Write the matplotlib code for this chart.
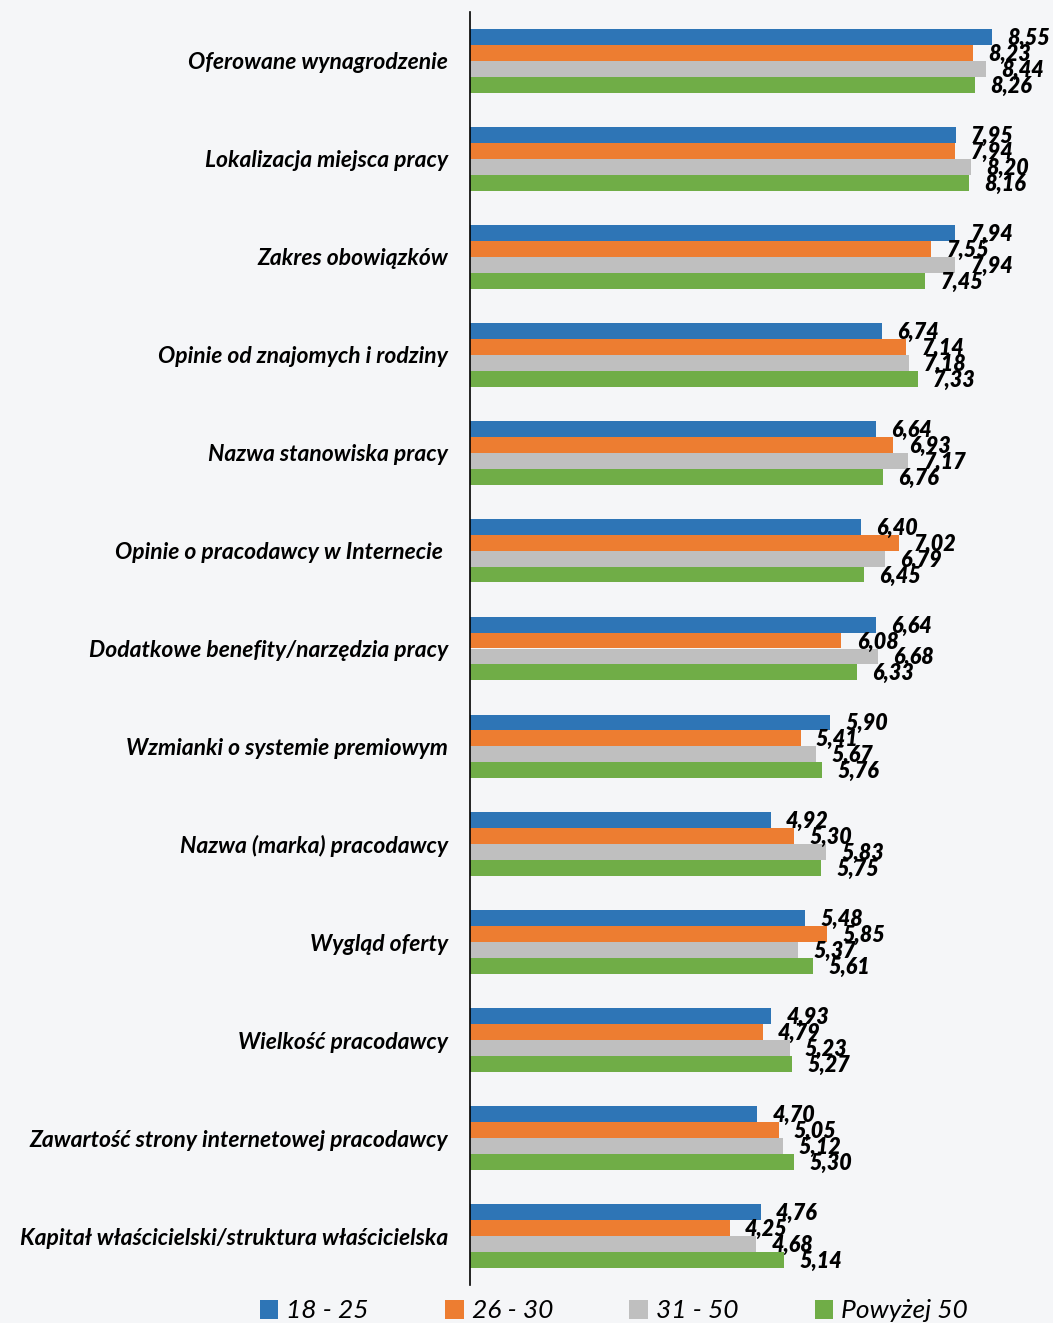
import matplotlib.pyplot as plt
import numpy as np

categories = [
    "Oferowane wynagrodzenie",
    "Lokalizacja miejsca pracy",
    "Zakres obowiązków",
    "Opinie od znajomych i rodziny",
    "Nazwa stanowiska pracy",
    "Opinie o pracodawcy w Internecie ",
    "Dodatkowe benefity/narzędzia pracy",
    "Wzmianki o systemie premiowym",
    "Nazwa (marka) pracodawcy",
    "Wygląd oferty",
    "Wielkość pracodawcy",
    "Zawartość strony internetowej pracodawcy",
    "Kapitał właścicielski/struktura właścicielska",
]
series_names = ["18 - 25", "26 - 30", "31 - 50", "Powyżej 50"]
v_18_25 = [8.55, 7.95, 7.94, 6.74, 6.64, 6.40, 6.64, 5.90, 4.92, 5.48, 4.93, 4.70, 4.76]
v_26_30 = [8.23, 7.94, 7.55, 7.14, 6.93, 7.02, 6.08, 5.41, 5.30, 5.85, 4.79, 5.05, 4.25]
v_31_50 = [8.44, 8.20, 7.94, 7.18, 7.17, 6.79, 6.68, 5.67, 5.83, 5.37, 5.23, 5.12, 4.68]
v_50plus = [8.26, 8.16, 7.45, 7.33, 6.76, 6.45, 6.33, 5.76, 5.75, 5.61, 5.27, 5.30, 5.14]
colors = ["#2e75b6", "#ed7d31", "#bfbfbf", "#70ad47"]

plt.rcParams['font.family'] = ['Lato', 'DejaVu Sans']
bg = "#f5f6f8"

fig = plt.figure(figsize=(10.53, 13.23), dpi=100, facecolor=bg)
ax = fig.add_axes([470 / 1053, 1 - 1285 / 1323, 583 / 1053, 1273 / 1323])
ax.set_facecolor(bg)

y = np.arange(len(categories))
h = 0.163
all_vals = [v_18_25, v_26_30, v_31_50, v_50plus]
for i, (vals, name, col) in enumerate(zip(all_vals, series_names, colors)):
    pos = y + (i - 1.5) * h
    ax.barh(pos, vals, height=h, color=col, label=name)
    for p, v in zip(pos, vals):
        # labels overlap a little, same as in the original
        ax.annotate(f"{v:.2f}".replace(".", ","), (v, p), xytext=(11, -1),
                    textcoords="offset points", va="center", ha="left",
                    fontsize=15.5, fontweight="heavy", fontstyle="italic")

ax.set_ylim(len(categories) - 0.5, -0.5)
ax.set_xlim(0, 583 / 61.1)
ax.set_yticks(y)
ax.set_yticklabels(categories, fontsize=16.5, fontweight="bold", fontstyle="italic")
ax.tick_params(axis="y", length=0, pad=16)
ax.set_xticks([])
for s in ["top", "right", "bottom"]:
    ax.spines[s].set_visible(False)
ax.spines["left"].set_linewidth(1.2)

leg = fig.legend(loc="center", bbox_to_anchor=(0.583, 1 - 1311 / 1323), ncol=4,
                 frameon=False, handlelength=0.7, handleheight=0.7,
                 columnspacing=2.9, handletextpad=0.3, prop={"style": "italic", "size": 19})

fig.savefig("out.png", dpi=100, facecolor=bg)
